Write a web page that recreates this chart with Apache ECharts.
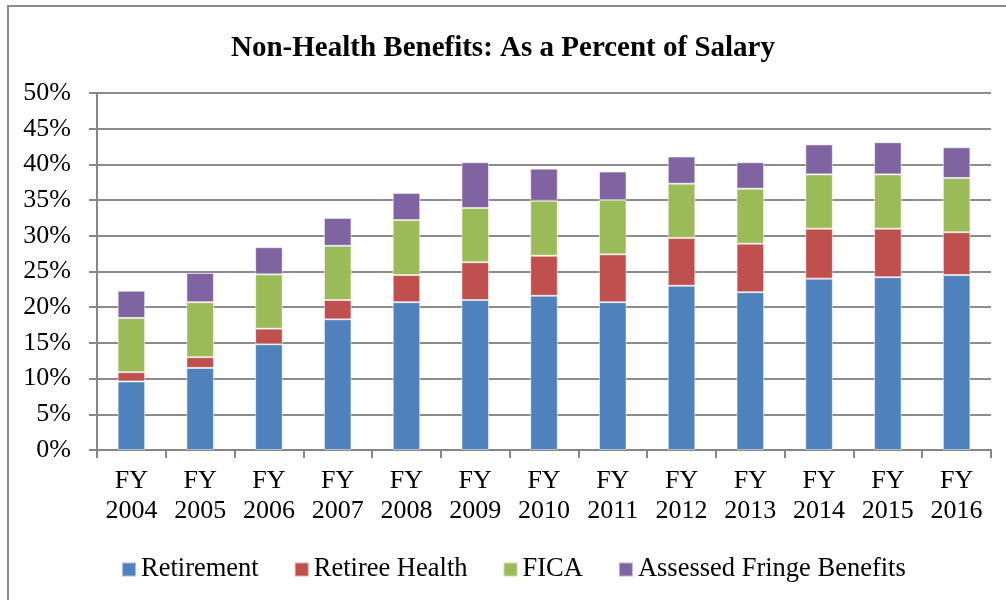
<!DOCTYPE html>
<html>
<head>
<meta charset="utf-8" />
<title>Non-Health Benefits</title>
<script src="https://cdn.jsdelivr.net/npm/echarts@6/dist/echarts.min.js"></script>
<style>
	html, body { margin: 0; padding: 0; background: #fff; }
	#frame {
		position: absolute; left: 7px; top: 5px;
		width: 1010px; height: 610px;
		border: 2px solid #8a8a8a;
	}
	#chart { position: absolute; left: 0; top: 0; width: 1006px; height: 600px; }
</style>
</head>
<body>
<div id="frame"></div>
<div id="chart"></div>
<script type="text/javascript">
// values, percent of salary
var years = ['FY\n2004', 'FY\n2005', 'FY\n2006', 'FY\n2007', 'FY\n2008', 'FY\n2009', 'FY\n2010',
	'FY\n2011', 'FY\n2012', 'FY\n2013', 'FY\n2014', 'FY\n2015', 'FY\n2016'];
var retirement     = [9.6, 11.5, 14.8, 18.3, 20.7, 21.0, 21.6, 20.7, 23.0, 22.1, 24.0, 24.2, 24.5];
var retireeHealth  = [1.3, 1.5, 2.2, 2.7, 3.8, 5.3, 5.6, 6.7, 6.7, 6.8, 7.0, 6.8, 6.0];
var fica           = [7.6, 7.7, 7.6, 7.6, 7.7, 7.6, 7.7, 7.6, 7.6, 7.7, 7.6, 7.6, 7.6];
var fringe         = [3.8, 4.1, 3.8, 3.9, 3.8, 6.4, 4.5, 4.0, 3.8, 3.7, 4.2, 4.5, 4.3];

var serif = '"Liberation Serif", "DejaVu Serif", serif';

function barSeries(name, data, color) {
	return {
		name: name,
		type: 'bar',
		stack: 'total',
		barWidth: '40%',
		data: data,
		itemStyle: { color: color, borderColor: 'rgba(255,255,255,0.5)', borderWidth: 1 }
	};
}

var myChart = echarts.init(document.getElementById('chart'));
var option = {
	animation: false,
	title: {
		text: 'Non-Health Benefits: As a Percent of Salary',
		left: 'center',
		top: 29,
		textStyle: { fontFamily: serif, fontSize: 29, fontWeight: 'bold', color: '#000' }
	},
	legend: {
		left: 116,
		top: 551,
		itemWidth: 14,
		itemHeight: 14,
		itemGap: 35,
		icon: 'rect',
		textStyle: { fontFamily: serif, fontSize: 26.5, color: '#000' },
		data: ['Retirement', 'Retiree Health', 'FICA', 'Assessed Fringe Benefits']
	},
	grid: { left: 97, right: 15, top: 93, bottom: 150, containLabel: false },
	xAxis: {
		type: 'category',
		data: years,
		axisLine: { lineStyle: { color: '#868686', width: 2 } },
		axisTick: { show: true, length: 8, lineStyle: { color: '#868686', width: 2 } },
		axisLabel: { margin: 16, fontFamily: serif, fontSize: 26, lineHeight: 30, color: '#000' }
	},
	yAxis: {
		type: 'value',
		min: 0,
		max: 50,
		interval: 5,
		axisLine: { show: true, lineStyle: { color: '#868686', width: 2 } },
		axisTick: { show: true, length: 8, lineStyle: { color: '#868686', width: 2 } },
		splitLine: { lineStyle: { color: '#8c8c8c', width: 2 } },
		axisLabel: { margin: 26, formatter: '{value}%', fontFamily: serif, fontSize: 26, color: '#000' }
	},
	series: [
		barSeries('Retirement', retirement, '#4F81BD'),
		barSeries('Retiree Health', retireeHealth, '#C0504D'),
		barSeries('FICA', fica, '#9BBB59'),
		barSeries('Assessed Fringe Benefits', fringe, '#8064A2')
	]
};
myChart.setOption(option);
</script>
</body>
</html>
